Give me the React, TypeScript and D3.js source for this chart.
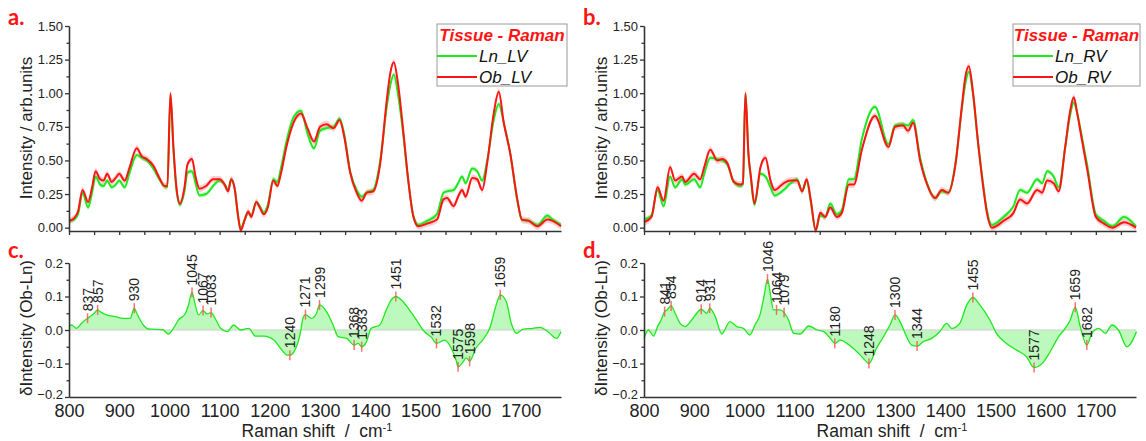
import React, { useEffect, useRef } from 'react';
import * as d3 from 'd3';

const W = 1146;
const H = 441;

// ---- panel a: LV spectra ----
const shiftA = [800, 810, 818, 827, 838, 846, 853, 862, 869, 876, 885, 893, 900, 911, 920, 935, 945, 955, 968, 980, 990, 996, 1002, 1008, 1014, 1021, 1030, 1036, 1045, 1052, 1060, 1073, 1087, 1100, 1110, 1117, 1123, 1130, 1137, 1142, 1150, 1157, 1163, 1173, 1180, 1188, 1196, 1207, 1215, 1222, 1233, 1247, 1262, 1275, 1288, 1300, 1313, 1327, 1339, 1348, 1360, 1373, 1383, 1393, 1406, 1420, 1433, 1440, 1447, 1455, 1465, 1475, 1486, 1496, 1513, 1533, 1546, 1553, 1566, 1575, 1583, 1590, 1603, 1613, 1623, 1633, 1646, 1656, 1666, 1679, 1693, 1702, 1716, 1733, 1753, 1763, 1780];
const obLV = [0.05, 0.07, 0.12, 0.28, 0.19, 0.30, 0.42, 0.36, 0.35, 0.40, 0.34, 0.37, 0.40, 0.35, 0.44, 0.59, 0.53, 0.51, 0.46, 0.37, 0.31, 0.31, 1.00, 0.60, 0.30, 0.18, 0.30, 0.47, 0.51, 0.38, 0.29, 0.31, 0.36, 0.36, 0.32, 0.27, 0.36, 0.29, 0.08, -0.02, 0.06, 0.12, 0.08, 0.19, 0.15, 0.10, 0.15, 0.35, 0.31, 0.40, 0.60, 0.78, 0.85, 0.74, 0.64, 0.75, 0.77, 0.74, 0.80, 0.68, 0.41, 0.26, 0.20, 0.26, 0.27, 0.48, 0.95, 1.15, 1.23, 1.08, 0.75, 0.38, 0.08, 0.01, 0.03, 0.06, 0.21, 0.22, 0.16, 0.23, 0.28, 0.23, 0.37, 0.36, 0.28, 0.48, 0.85, 1.01, 0.78, 0.55, 0.21, 0.06, 0.05, 0.01, 0.06, 0.05, 0.01];
const lnLV = [0.05, 0.06, 0.10, 0.26, 0.15, 0.26, 0.38, 0.32, 0.31, 0.35, 0.30, 0.32, 0.35, 0.30, 0.40, 0.54, 0.52, 0.50, 0.44, 0.36, 0.31, 0.30, 0.99, 0.58, 0.28, 0.17, 0.27, 0.41, 0.42, 0.33, 0.24, 0.25, 0.31, 0.35, 0.32, 0.28, 0.36, 0.29, 0.08, -0.01, 0.06, 0.11, 0.09, 0.19, 0.16, 0.11, 0.17, 0.36, 0.34, 0.44, 0.64, 0.82, 0.87, 0.70, 0.59, 0.72, 0.74, 0.75, 0.81, 0.70, 0.42, 0.28, 0.23, 0.26, 0.28, 0.50, 0.90, 1.06, 1.14, 1.00, 0.72, 0.37, 0.09, 0.02, 0.05, 0.10, 0.26, 0.27, 0.28, 0.33, 0.38, 0.33, 0.44, 0.42, 0.35, 0.50, 0.80, 0.92, 0.78, 0.55, 0.20, 0.06, 0.05, 0.02, 0.09, 0.06, 0.02];

// ---- panel b: RV spectra ----
const shiftB = [800, 815, 827, 839, 852, 862, 876, 882, 900, 912, 920, 932, 946, 956, 966, 979, 992, 997, 1002, 1008, 1013, 1020, 1032, 1042, 1052, 1060, 1078, 1092, 1105, 1115, 1124, 1132, 1142, 1151, 1161, 1171, 1184, 1194, 1208, 1218, 1234, 1260, 1287, 1300, 1316, 1326, 1336, 1350, 1363, 1380, 1393, 1406, 1420, 1433, 1440, 1447, 1455, 1465, 1475, 1483, 1493, 1516, 1536, 1549, 1563, 1583, 1593, 1603, 1616, 1626, 1639, 1648, 1656, 1663, 1670, 1683, 1700, 1716, 1733, 1756, 1780];
const obRV = [0.04, 0.08, 0.30, 0.20, 0.45, 0.35, 0.38, 0.34, 0.40, 0.36, 0.45, 0.58, 0.50, 0.51, 0.48, 0.34, 0.32, 0.33, 1.00, 0.55, 0.38, 0.18, 0.45, 0.52, 0.35, 0.28, 0.33, 0.35, 0.35, 0.27, 0.36, 0.21, -0.02, 0.11, 0.08, 0.15, 0.08, 0.11, 0.32, 0.32, 0.58, 0.83, 0.60, 0.75, 0.76, 0.72, 0.78, 0.50, 0.33, 0.22, 0.28, 0.26, 0.46, 0.90, 1.12, 1.20, 1.02, 0.65, 0.32, 0.11, 0.00, 0.05, 0.11, 0.21, 0.18, 0.28, 0.26, 0.35, 0.33, 0.27, 0.60, 0.85, 0.97, 0.85, 0.70, 0.43, 0.08, 0.03, 0.00, 0.04, 0.00];
const lnRV = [0.06, 0.09, 0.28, 0.16, 0.38, 0.30, 0.36, 0.32, 0.36, 0.30, 0.40, 0.52, 0.51, 0.50, 0.47, 0.34, 0.31, 0.32, 1.00, 0.55, 0.36, 0.17, 0.40, 0.38, 0.30, 0.24, 0.28, 0.33, 0.36, 0.27, 0.35, 0.20, -0.02, 0.09, 0.08, 0.18, 0.10, 0.13, 0.36, 0.36, 0.66, 0.90, 0.62, 0.76, 0.77, 0.76, 0.80, 0.52, 0.34, 0.22, 0.27, 0.26, 0.47, 0.88, 1.07, 1.16, 1.00, 0.64, 0.34, 0.13, 0.02, 0.08, 0.16, 0.28, 0.26, 0.36, 0.33, 0.42, 0.38, 0.30, 0.60, 0.82, 0.93, 0.85, 0.72, 0.46, 0.10, 0.05, 0.01, 0.08, 0.01];

// spread of the spectra (half width of shaded band)
const sdLn = 0.018;
const sdOb = 0.025;

// ---- panel c: LV difference ----
const shiftC = [800, 805, 815, 825, 837, 842, 850, 857, 862, 875, 892, 908, 922, 930, 935, 948, 958, 975, 988, 998, 1008, 1018, 1032, 1038, 1045, 1052, 1058, 1067, 1075, 1083, 1092, 1102, 1115, 1128, 1142, 1158, 1171, 1188, 1208, 1224, 1234, 1240, 1250, 1260, 1266, 1271, 1283, 1293, 1299, 1313, 1326, 1336, 1353, 1368, 1376, 1383, 1392, 1402, 1419, 1432, 1442, 1451, 1465, 1478, 1492, 1505, 1522, 1532, 1548, 1561, 1571, 1575, 1585, 1591, 1598, 1611, 1624, 1638, 1651, 1659, 1671, 1681, 1691, 1704, 1724, 1738, 1754, 1771, 1780];
const diffLV = [0.01, 0.015, 0.005, 0.02, 0.035, 0.04, 0.05, 0.06, 0.055, 0.045, 0.04, 0.035, 0.035, 0.065, 0.05, 0.015, 0.003, 0.002, 0.0, -0.012, 0.005, 0.03, 0.05, 0.075, 0.112, 0.072, 0.045, 0.058, 0.048, 0.052, 0.032, 0.005, -0.005, 0.015, 0.0, 0.005, -0.018, -0.018, -0.03, -0.06, -0.075, -0.075, -0.06, -0.015, 0.035, 0.046, 0.035, 0.05, 0.075, 0.055, 0.015, -0.02, -0.025, -0.045, -0.04, -0.05, -0.037, 0.005, 0.015, 0.06, 0.09, 0.10, 0.085, 0.06, 0.03, 0.0, -0.022, -0.04, -0.03, -0.053, -0.09, -0.11, -0.095, -0.083, -0.093, -0.053, -0.03, 0.005, 0.075, 0.105, 0.085, 0.02, -0.01, 0.002, 0.005, 0.008, -0.005, -0.025, -0.005];
const peaksC = [837, 857, 930, 1045, 1067, 1083, 1240, 1271, 1299, 1368, 1383, 1451, 1532, 1575, 1598, 1659];

// ---- panel d: RV difference ----
const shiftD = [800, 809, 819, 827, 834, 841, 846, 854, 862, 872, 882, 895, 905, 914, 920, 925, 931, 942, 955, 971, 985, 998, 1011, 1021, 1031, 1039, 1046, 1052, 1058, 1064, 1071, 1079, 1088, 1098, 1111, 1128, 1145, 1158, 1171, 1180, 1191, 1204, 1217, 1231, 1240, 1248, 1263, 1277, 1290, 1300, 1310, 1323, 1333, 1344, 1356, 1373, 1389, 1403, 1413, 1429, 1443, 1455, 1469, 1489, 1502, 1522, 1542, 1562, 1577, 1596, 1609, 1626, 1639, 1649, 1659, 1669, 1682, 1692, 1706, 1719, 1732, 1745, 1762, 1781];
const diffRV = [-0.025, 0.0, -0.018, 0.01, 0.03, 0.055, 0.06, 0.072, 0.05, 0.02, 0.01, 0.03, 0.05, 0.062, 0.055, 0.05, 0.065, 0.04, -0.012, 0.025, 0.01, 0.005, -0.015, 0.015, 0.045, 0.10, 0.152, 0.105, 0.06, 0.06, 0.06, 0.052, 0.03, -0.01, -0.012, 0.012, 0.0, -0.005, -0.025, -0.04, -0.03, -0.04, -0.055, -0.075, -0.09, -0.10, -0.055, -0.02, 0.015, 0.045, 0.025, -0.02, -0.045, -0.048, -0.035, -0.025, -0.005, 0.02, 0.005, 0.02, 0.075, 0.097, 0.075, 0.03, -0.01, -0.04, -0.06, -0.08, -0.112, -0.095, -0.065, -0.02, 0.005, 0.03, 0.068, 0.01, -0.045, -0.01, 0.005, -0.01, 0.015, 0.0, -0.05, -0.005];
const peaksD = [841, 854, 914, 931, 1046, 1064, 1079, 1180, 1248, 1300, 1344, 1455, 1577, 1659, 1682];

const yTicksTop = [0, 0.25, 0.5, 0.75, 1.0, 1.25, 1.5];
const yTicksDiff = [-0.2, -0.1, 0, 0.1, 0.2];
const xTicks = [800, 900, 1000, 1100, 1200, 1300, 1400, 1500, 1600, 1700];

const GREEN = '#1ee81e';
const RED = '#ff1414';
const FONT = "'Liberation Sans', Arial, sans-serif";

const Axis = ({ orient, scale, tx, ty, values, minor, fmt, size = 4, pad = 2, font = 13, lift = 0 }: any) => {
  const ref = useRef<SVGGElement>(null);
  useEffect(() => {
    const g = d3.select(ref.current);
    g.selectAll('*').remove();
    const mk = orient === 'left' ? d3.axisLeft : d3.axisBottom;
    if (minor) {
      g.append('g').call(mk(scale).tickValues(minor).tickSize(2.5).tickFormat(() => '').tickSizeOuter(0));
    }
    g.append('g').call(
      mk(scale).tickValues(values).tickSize(size).tickPadding(pad).tickFormat(fmt || (() => '')).tickSizeOuter(0)
    );
    g.selectAll('path.domain, line').attr('stroke', '#333').attr('stroke-width', 1.3);
    g.selectAll('text').attr('font-family', FONT).attr('font-size', font).attr('fill', '#222');
    // nudge the lowest label up a little so it clears the x labels
    if (lift) g.selectAll('g.tick').filter((d: any) => d === values[0]).select('text').attr('y', -lift);
  }, [orient, scale, values, minor, fmt, size, pad, font, lift]);
  return <g ref={ref} transform={`translate(${tx},${ty})`} />;
};

const TopPanel = ({ left, right, shift, ln, ob, letter, names, legendX, legendW }: any) => {
  const x = d3.scaleLinear().domain([800, 1780]).range([left, right]);
  const y = d3.scaleLinear().domain([-0.025, 1.5]).range([231, 26]);
  const idx = d3.range(shift.length);
  const band = (vals: number[], sd: number) =>
    d3.area<number>().x((i) => x(shift[i])).y0((i) => y(vals[i] - sd)).y1((i) => y(vals[i] + sd)).curve(d3.curveMonotoneX)(idx);
  const line = (vals: number[]) =>
    d3.line<number>().x((i) => x(shift[i])).y((i) => y(vals[i])).curve(d3.curveMonotoneX)(idx);
  const minorY = d3.range(0.125, 1.5, 0.25);
  return (
    <g>
      <text x={left - 61} y={25} fontFamily="Lato, sans-serif" fontWeight="bold" fontSize={22} fill={RED}>{letter}</text>
      <path d={band(ln, sdLn) || ''} fill={GREEN} opacity={0.25} />
      <path d={band(ob, sdOb) || ''} fill={RED} opacity={0.2} />
      <path d={line(ln) || ''} fill="none" stroke={GREEN} strokeWidth={2} />
      <path d={line(ob) || ''} fill="none" stroke={RED} strokeWidth={2} />
      <Axis orient="left" scale={y} tx={left} ty={0} values={yTicksTop} minor={minorY} fmt={d3.format('.2f')} />
      <Axis orient="bottom" scale={x} tx={0} ty={231} values={d3.range(800, 1781, 50)} />
      <text transform={`translate(${left - 43},128) rotate(-90)`} textAnchor="middle" dominantBaseline="central" fontFamily={FONT} fontSize={17} fill="#222">
        Intensity / arb.units
      </text>
      <g fontFamily={FONT}>
        <rect x={legendX} y={24} width={legendW} height={62} fill="#fff" stroke="#999" strokeWidth={1} />
        <text x={legendX + legendW / 2} y={41} textAnchor="middle" fontWeight="bold" fontStyle="italic" fontSize={17} fill={RED}>Tissue - Raman</text>
        <line x1={legendX} x2={legendX + 40} y1={56} y2={56} stroke={GREEN} strokeWidth={2} />
        <text x={legendX + 42} y={62} fontStyle="italic" fontSize={17} fill="#111">{names[0]}</text>
        <line x1={legendX} x2={legendX + 40} y1={77} y2={77} stroke={RED} strokeWidth={2} />
        <text x={legendX + 42} y={83} fontStyle="italic" fontSize={17} fill="#111">{names[1]}</text>
      </g>
    </g>
  );
};

const DiffPanel = ({ left, right, shift, diff, peaks, letter }: any) => {
  const x = d3.scaleLinear().domain([800, 1780]).range([left, right]);
  const y = d3.scaleLinear().domain([-0.2, 0.2]).range([397, 263]);
  const idx = d3.range(shift.length);
  const area = d3.area<number>().x((i) => x(shift[i])).y0(y(0)).y1((i) => y(diff[i])).curve(d3.curveMonotoneX)(idx);
  const line = d3.line<number>().x((i) => x(shift[i])).y((i) => y(diff[i])).curve(d3.curveMonotoneX)(idx);
  const minorY = d3.range(-0.15, 0.2, 0.1);
  return (
    <g>
      <text x={left - 61} y={258} fontFamily="Lato, sans-serif" fontWeight="bold" fontSize={22} fill={RED}>{letter}</text>
      <path d={area || ''} fill="#6cf06c" opacity={0.45} />
      <line x1={left} x2={right} y1={y(0)} y2={y(0)} stroke="#d4dcd4" strokeWidth={1.5} />
      <path d={line || ''} fill="none" stroke={GREEN} strokeWidth={1.3} />
      {peaks.map((p: number) => {
        const v = diff[shift.indexOf(p)];
        const px = x(p);
        const py = y(v);
        return (
          <g key={p}>
            <line x1={px} x2={px} y1={py - 5} y2={py + 5} stroke="#ff5050" strokeWidth={1.5} opacity={0.8} />
            <text transform={`translate(${px},${py - 7}) rotate(-90)`} dominantBaseline="central" fontFamily={FONT} fontSize={14} fill="#222">
              {p}
            </text>
          </g>
        );
      })}
      <Axis orient="left" scale={y} tx={left} ty={0} values={yTicksDiff} minor={minorY} fmt={d3.format('.1f')} lift={3} />
      <Axis orient="bottom" scale={x} tx={0} ty={397} values={xTicks} fmt={d3.format('d')} size={0} pad={7} font={18} />
      <text transform={`translate(${left - 43},328) rotate(-90)`} textAnchor="middle" dominantBaseline="central" fontFamily={FONT} fontSize={17} fill="#222">
        δIntensity (Ob-Ln)
      </text>
      <text x={(left + right) / 2 + 2} y={436.5} textAnchor="middle" fontFamily={FONT} fontSize={17.5} fill="#222" style={{ whiteSpace: 'pre' }}>
        {'Raman shift  /  cm'}
        <tspan dy={-5.5} fontSize={11}>-1</tspan>
      </text>
    </g>
  );
};

export default function App() {
  return (
    <svg width={W} height={H} style={{ position: 'absolute', left: 0, top: 0, background: '#fff' }}>
      <TopPanel left={69} right={561} shift={shiftA} ln={lnLV} ob={obLV} letter="a." names={['Ln_LV', 'Ob_LV']} legendX={437} legendW={130} />
      <TopPanel left={644} right={1136} shift={shiftB} ln={lnRV} ob={obRV} letter="b." names={['Ln_RV', 'Ob_RV']} legendX={1013} legendW={127} />
      <DiffPanel left={69} right={561} shift={shiftC} diff={diffLV} peaks={peaksC} letter="c." />
      <DiffPanel left={644} right={1136} shift={shiftD} diff={diffRV} peaks={peaksD} letter="d." />
    </svg>
  );
}
